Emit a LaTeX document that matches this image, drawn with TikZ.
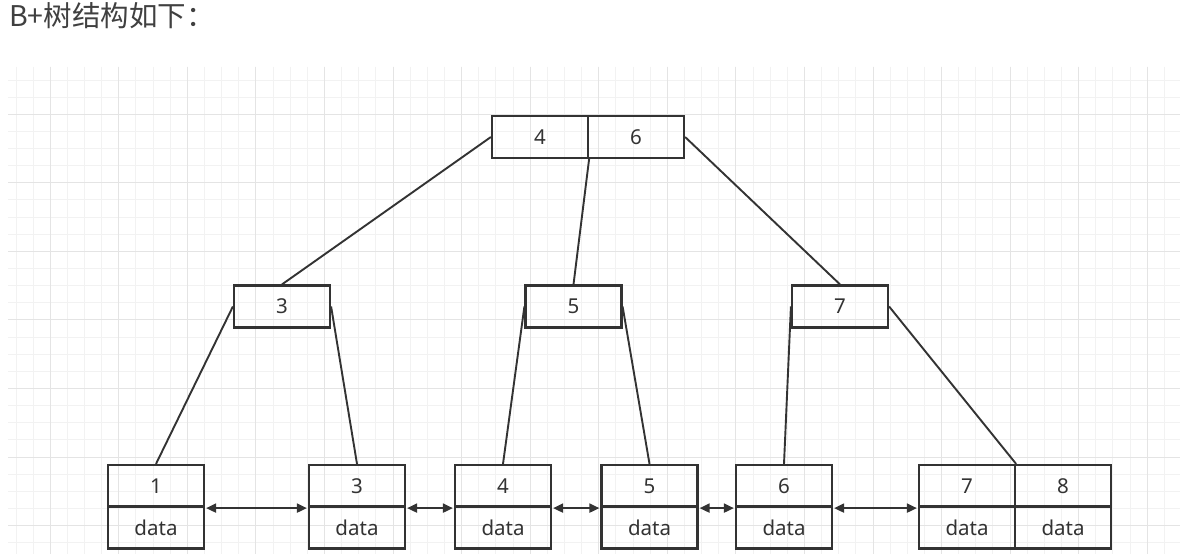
\documentclass[tikz,border=0pt]{standalone}
\usepackage{fontspec}
\setmainfont{Noto Sans}
\newfontfamily\cjk{Noto Sans CJK SC}
\usetikzlibrary{arrows.meta}
\definecolor{ink}{HTML}{333333}
\definecolor{titlecol}{HTML}{404040}
\definecolor{gridminor}{HTML}{F2F2F2}
\definecolor{gridmajor}{HTML}{E4E4E4}
\tikzset{
  cell/.style={draw=ink, line width=2.2pt, minimum width=96pt, minimum height=42pt, inner sep=0pt, text=ink, font=\fontsize{20.5}{20.5}\selectfont},
  link/.style={draw=ink, line width=1.9pt},
  dlink/.style={draw=ink, line width=1.9pt, {Triangle[length=10pt,width=9pt]}-{Triangle[length=10pt,width=9pt]}, shorten <=1pt, shorten >=1pt}
}
\begin{document}
\begin{tikzpicture}[x=1pt,y=-1pt]
\useasboundingbox (0,0) rectangle (1180,554);
\fill[white] (0,0) rectangle (1180,554);
% grid
\foreach \i in {0,...,67} {
  \draw[gridminor, line width=1pt] ({16+17.14*\i},66.7) -- ({16+17.14*\i},554);
}
\foreach \j in {0,...,27} {
  \draw[gridminor, line width=1pt] (8.3,{80+17.14*\j}) -- (1180,{80+17.14*\j});
}
\foreach \i in {0,...,16} {
  \draw[gridmajor, line width=1pt] ({50.3+68.56*\i},66.7) -- ({50.3+68.56*\i},554);
}
\foreach \j in {0,...,6} {
  \draw[gridmajor, line width=1pt] (8.3,{114.3+68.56*\j}) -- (1180,{114.3+68.56*\j});
}
% title
\node[anchor=base west, inner sep=0pt, text=titlecol, font=\cjk\fontsize{28.5}{28.5}\selectfont] (title) at (9,27) {B+树结构如下：};
% root
\node[cell] (r4) at (540,137) {4};
\node[cell] (r6) at (636,137) {6};
% middle
\node[cell] (m3) at (282,306.5) {3};
\node[cell] (m5) at (573.5,306.5) {5};
\node[cell] (m7) at (840,306.5) {7};
% leaves
\node[cell] (l1) at (156,486) {1};
\node[cell] (d1) at (156,527.5) {data};
\node[cell] (l3) at (357,486) {3};
\node[cell] (d3) at (357,527.5) {data};
\node[cell] (l4) at (503,486) {4};
\node[cell] (d4) at (503,527.5) {data};
\node[cell] (l5) at (649.5,486) {5};
\node[cell] (d5) at (649.5,527.5) {data};
\node[cell] (l6) at (784,486) {6};
\node[cell] (d6) at (784,527.5) {data};
\node[cell] (l7) at (967,486) {7};
\node[cell] (d7) at (967,527.5) {data};
\node[cell] (l8) at (1063,486) {8};
\node[cell] (d8) at (1063,527.5) {data};
% tree links
\draw[link] (r4.west) -- (m3.north);
\draw[link] (r4.south east) -- (m5.north);
\draw[link] (r6.east) -- (m7.north);
\draw[link] (m3.west) -- (l1.north);
\draw[link] (m3.east) -- (l3.north);
\draw[link] (m5.west) -- (l4.north);
\draw[link] (m5.east) -- (l5.north);
\draw[link] (m7.west) -- (l6.north);
\draw[link] (m7.east) -- (l7.north east);
% leaf links
\draw[dlink] (l1.south east) -- (l3.south west);
\draw[dlink] (l3.south east) -- (l4.south west);
\draw[dlink] (l4.south east) -- (l5.south west);
\draw[dlink] (l5.south east) -- (l6.south west);
\draw[dlink] (l6.south east) -- (l7.south west);
\end{tikzpicture}
\end{document}
